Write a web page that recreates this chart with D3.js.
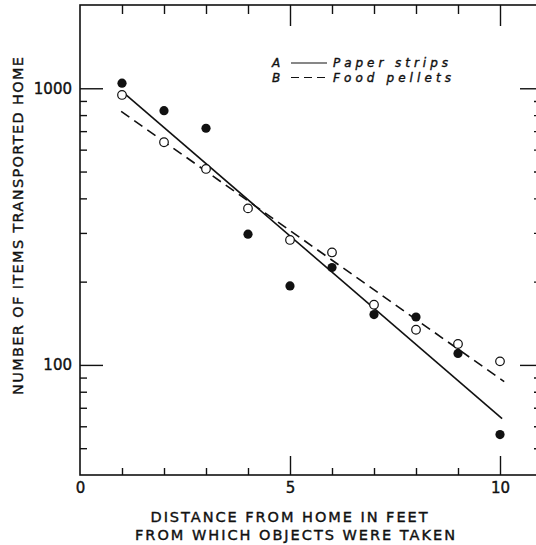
<!DOCTYPE html>
<html>
<head>
<meta charset="utf-8">
<script src="https://cdn.jsdelivr.net/npm/d3@7/dist/d3.min.js"></script>
<style>
  html, body { margin: 0; padding: 0; background: #fff; }
  svg { display: block; }
  text { font-family: "DejaVu Sans", sans-serif; fill: #111; }
  .heavy { stroke: #111; stroke-width: 0.4px; }
</style>
</head>
<body>
<svg id="chart" width="536" height="545"></svg>
<script>
// Distance (feet) at which objects were placed
const distance = [1, 2, 3, 4, 5, 6, 7, 8, 9, 10];
// A: paper strips (filled circles)
const paperStrips = [1043, 830, 717, 297, 193, 225, 152, 149, 110, 56];
// B: food pellets (open circles)
const foodPellets = [946, 638, 511, 368, 283, 255, 165, 134, 119, 103];

// Fitted lines (end points)
const paperFitX = [1, 10.05];
const paperFitY = [975, 64];
const pelletFitX = [0.98, 10.1];
const pelletFitY = [825, 87];

// Axis ticks
const xMajorTicks = [5, 10];
const xMinorTicks = [1, 2, 3, 4, 6, 7, 8, 9];
const xTickLabels = [0, 5, 10];
const yMajorTicks = [100, 1000];
const yMinorTicks = [50, 60, 70, 80, 90, 200, 300, 400, 500, 600, 700, 800, 900];
const yTickLabels = [100, 1000];

const legendKeys = ["A", "B"];
const legendNames = ["Paper strips", "Food pellets"];

const svg = d3.select("#chart");

const x = d3.scaleLinear().domain([0, 11]).range([80, 542]);
const y = d3.scaleLog().domain([40, 2000]).range([475, 5]);

const [x0, x1] = x.range();
const [yb, yt] = y.range();

// tick helper: draws axis ticks only, no domain path
function ticks(axis, tx, ty) {
  const g = svg.append("g").attr("transform", `translate(${tx},${ty})`).call(axis);
  g.select(".domain").remove();
  g.selectAll(".tick line").attr("stroke", "#111").attr("stroke-width", 1.4);
  g.selectAll(".tick text").remove();
  return g;
}

// bottom
ticks(d3.axisBottom(x).tickValues(xMinorTicks).tickSize(-7), 0, yb);
ticks(d3.axisBottom(x).tickValues(xMajorTicks).tickSize(-19), 0, yb);
// top
ticks(d3.axisTop(x).tickValues(xMinorTicks).tickSize(-9), 0, yt);
ticks(d3.axisTop(x).tickValues(xMajorTicks).tickSize(-21), 0, yt);
// left
ticks(d3.axisLeft(y).tickValues(yMinorTicks).tickSize(-7), x0, 0);
ticks(d3.axisLeft(y).tickValues(yMajorTicks).tickSize(-23), x0, 0);
// right
ticks(d3.axisRight(y).tickValues(yMinorTicks).tickSize(-8), x1, 0);
ticks(d3.axisRight(y).tickValues(yMajorTicks).tickSize(-22), x1, 0);

// frame
svg.append("rect")
  .attr("x", x0).attr("y", yt)
  .attr("width", x1 - x0).attr("height", yb - yt)
  .attr("fill", "none").attr("stroke", "#111").attr("stroke-width", 1.6);

// tick labels
const xl = svg.append("g").attr("transform", `translate(0,${yb})`)
  .call(d3.axisBottom(x).tickValues(xTickLabels).tickSize(0).tickPadding(7).tickFormat(d3.format("d")));
xl.select(".domain").remove();
xl.selectAll("text").attr("font-size", 15).attr("font-family", "DejaVu Sans")
  .attr("fill", "#111").attr("class", "heavy");

const yl = svg.append("g").attr("transform", `translate(${x0},0)`)
  .call(d3.axisLeft(y).tickValues(yTickLabels).tickSize(0).tickPadding(8).tickFormat(d3.format("d")));
yl.select(".domain").remove();
yl.selectAll("text").attr("font-size", 15).attr("font-family", "DejaVu Sans")
  .attr("fill", "#111").attr("class", "heavy");

// axis titles
svg.append("text").attr("class", "heavy")
  .attr("x", 289).attr("y", 522)
  .attr("text-anchor", "middle").attr("font-size", 14.5)
  .attr("textLength", 277).attr("lengthAdjust", "spacing")
  .text("DISTANCE FROM HOME IN FEET");
svg.append("text").attr("class", "heavy")
  .attr("x", 295).attr("y", 540)
  .attr("text-anchor", "middle").attr("font-size", 14.5)
  .attr("textLength", 320).attr("lengthAdjust", "spacing")
  .text("FROM WHICH OBJECTS WERE TAKEN");
svg.append("text").attr("class", "heavy")
  .attr("transform", "translate(23,226) rotate(-90)")
  .attr("text-anchor", "middle").attr("font-size", 14.5)
  .attr("textLength", 338).attr("lengthAdjust", "spacing")
  .text("NUMBER OF ITEMS TRANSPORTED HOME");

// fitted lines
const line = d3.line().x(d => x(d[0])).y(d => y(d[1]));
svg.append("path")
  .datum(d3.zip(paperFitX, paperFitY))
  .attr("d", line).attr("fill", "none").attr("stroke", "#111").attr("stroke-width", 1.6);
svg.append("path")
  .datum(d3.zip(pelletFitX, pelletFitY))
  .attr("d", line).attr("fill", "none").attr("stroke", "#111").attr("stroke-width", 1.6)
  .attr("stroke-dasharray", "10,6");

// points
svg.append("g").selectAll("circle")
  .data(d3.zip(distance, foodPellets)).join("circle")
  .attr("cx", d => x(d[0])).attr("cy", d => y(d[1])).attr("r", 4.3)
  .attr("fill", "#fff").attr("stroke", "#111").attr("stroke-width", 1.2);
svg.append("g").selectAll("circle")
  .data(d3.zip(distance, paperStrips)).join("circle")
  .attr("cx", d => x(d[0])).attr("cy", d => y(d[1])).attr("r", 4.6)
  .attr("fill", "#111");

// legend
const lg = svg.append("g");
const legendY = [67, 81.5];
const dashes = [null, "8,5"];
legendKeys.forEach((k, i) => {
  lg.append("text").attr("class", "heavy").attr("x", 272).attr("y", legendY[i])
    .attr("font-size", 12).attr("font-style", "italic").text(k);
  lg.append("line").attr("x1", 291).attr("x2", 327)
    .attr("y1", legendY[i] - 4).attr("y2", legendY[i] - 4)
    .attr("stroke", "#111").attr("stroke-width", 1.2)
    .attr("stroke-dasharray", dashes[i]);
  lg.append("text").attr("class", "heavy").attr("x", 333).attr("y", legendY[i])
    .attr("font-size", 12).attr("font-style", "italic")
    .attr("textLength", i === 0 ? 115 : 118).attr("lengthAdjust", "spacing")
    .text(legendNames[i]);
});
</script>
</body>
</html>
